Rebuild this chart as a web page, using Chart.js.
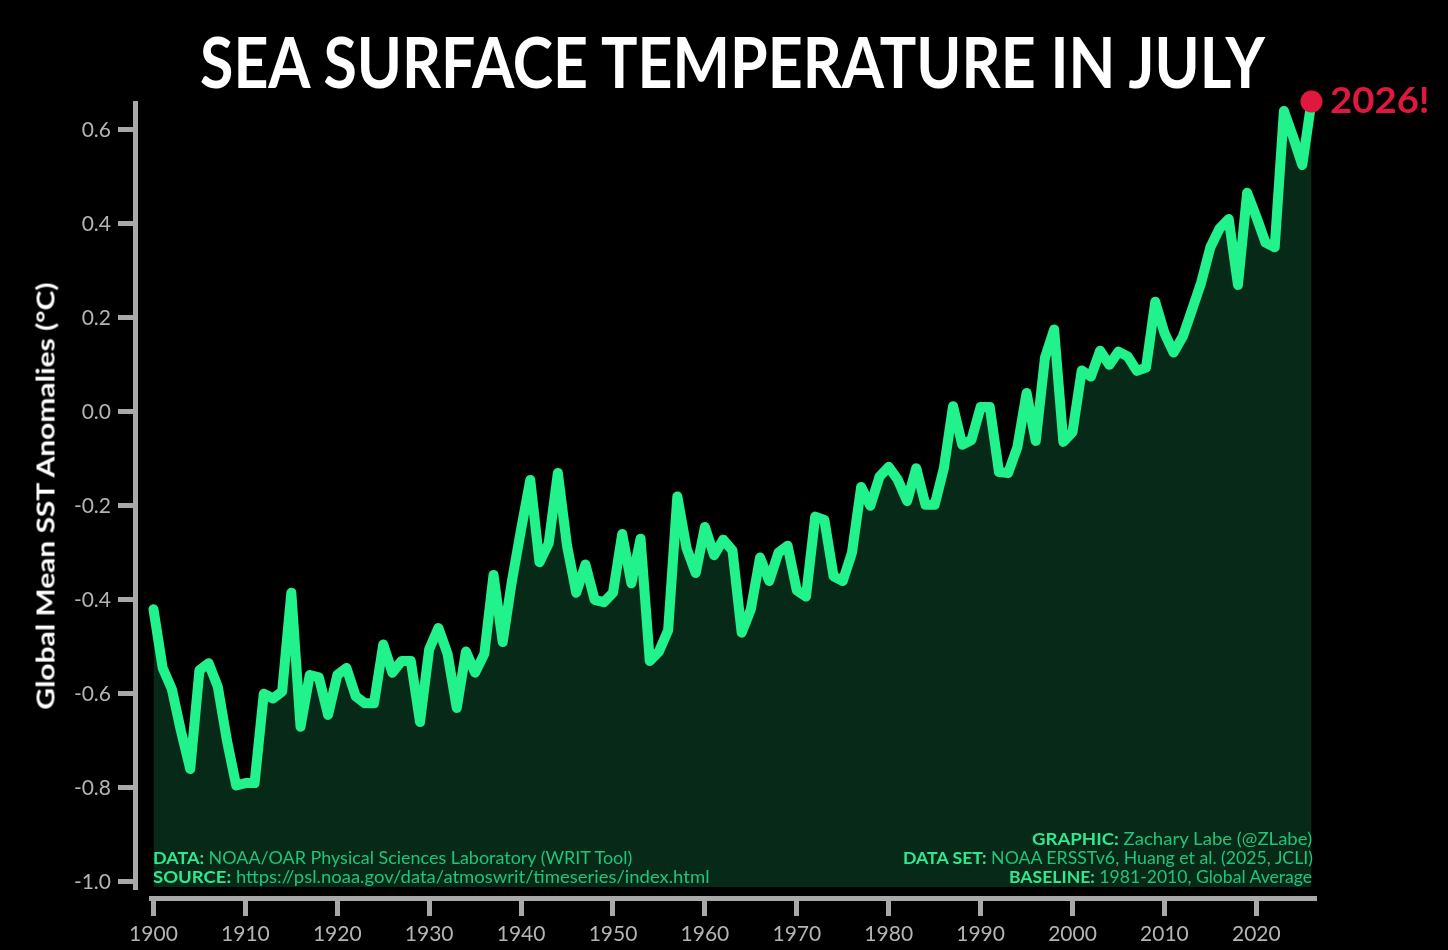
<!DOCTYPE html>
<html>
<head>
<meta charset="utf-8">
<script src="https://cdn.jsdelivr.net/npm/chart.js@4.4.1/dist/chart.umd.min.js"></script>
<style>
   html, body { margin: 0; padding: 0; background: #000; }
   #wrap { position: relative; width: 1448px; height: 950px; overflow: hidden; background: #000; }
   #chart { position: absolute; left: 0; top: 0; }
   .txt { position: absolute; white-space: nowrap; font-family: Lato, "DejaVu Sans", sans-serif; }
   #title { left: 200px; top: 26px; font-size: 70px; line-height: 70px; font-weight: 700; color: #fff; transform-origin: 0 0; }
   #ytitle { left: 45px; top: 496px; font-size: 25px; line-height: 25px; font-weight: 700; color: #fff; }
   #hl { left: 1330px; top: 81px; font-size: 36px; line-height: 36px; font-weight: 700; color: #e0173f; transform-origin: 0 0; }
   .credit { font-size: 17px; line-height: 17px; color: #22c47a; }
   .credit b { color: #2fe890; font-weight: 700; }
   .left { transform-origin: 0 0; }
   .right { transform-origin: 100% 0; }
</style>
</head>
<body>
<div id="wrap">
   <canvas id="chart" width="1448" height="950"></canvas>
   <div id="title" class="txt">SEA SURFACE TEMPERATURE IN JULY</div>
   <div id="ytitle" class="txt">Global Mean SST Anomalies (°C)</div>
   <div id="hl" class="txt">2026!</div>
   <div id="c1" class="txt credit left" style="left:153px;top:849px"><b>DATA:</b> NOAA/OAR Physical Sciences Laboratory (WRIT Tool)</div>
   <div id="c2" class="txt credit left" style="left:153px;top:868px"><b>SOURCE:</b> https://psl.noaa.gov/data/atmoswrit/timeseries/index.html</div>
   <div id="c3" class="txt credit right" style="right:136px;top:830px"><b>GRAPHIC:</b> Zachary Labe (@ZLabe)</div>
   <div id="c4" class="txt credit right" style="right:135px;top:849px"><b>DATA SET:</b> NOAA ERSSTv6, Huang et al. (2025, JCLI)</div>
   <div id="c5" class="txt credit right" style="right:136px;top:868px"><b>BASELINE:</b> 1981-2010, Global Average</div>
</div>
<script>
const years = [
   1900, 1901, 1902, 1903, 1904, 1905, 1906, 1907, 1908, 1909,
   1910, 1911, 1912, 1913, 1914, 1915, 1916, 1917, 1918, 1919,
   1920, 1921, 1922, 1923, 1924, 1925, 1926, 1927, 1928, 1929,
   1930, 1931, 1932, 1933, 1934, 1935, 1936, 1937, 1938, 1939,
   1940, 1941, 1942, 1943, 1944, 1945, 1946, 1947, 1948, 1949,
   1950, 1951, 1952, 1953, 1954, 1955, 1956, 1957, 1958, 1959,
   1960, 1961, 1962, 1963, 1964, 1965, 1966, 1967, 1968, 1969,
   1970, 1971, 1972, 1973, 1974, 1975, 1976, 1977, 1978, 1979,
   1980, 1981, 1982, 1983, 1984, 1985, 1986, 1987, 1988, 1989,
   1990, 1991, 1992, 1993, 1994, 1995, 1996, 1997, 1998, 1999,
   2000, 2001, 2002, 2003, 2004, 2005, 2006, 2007, 2008, 2009,
   2010, 2011, 2012, 2013, 2014, 2015, 2016, 2017, 2018, 2019,
   2020, 2021, 2022, 2023, 2024, 2025, 2026,
]

// July global mean SST anomaly (°C), 1981-2010 baseline
const sstAnomaly = [
   -0.42, -0.545, -0.59, -0.68, -0.76, -0.55, -0.535, -0.585, -0.70, -0.795,
   -0.79, -0.79, -0.60, -0.61, -0.595, -0.385, -0.67, -0.56, -0.565, -0.645,
   -0.56, -0.545, -0.605, -0.62, -0.62, -0.495, -0.555, -0.53, -0.53, -0.66,
   -0.505, -0.46, -0.515, -0.63, -0.51, -0.555, -0.515, -0.347, -0.49, -0.36,
   -0.25, -0.145, -0.32, -0.28, -0.13, -0.285, -0.385, -0.325, -0.40, -0.405,
   -0.385, -0.26, -0.365, -0.27, -0.53, -0.51, -0.465, -0.18, -0.29, -0.343,
   -0.245, -0.305, -0.272, -0.295, -0.47, -0.42, -0.31, -0.36, -0.30, -0.285,
   -0.38, -0.393, -0.223, -0.23, -0.35, -0.36, -0.30, -0.16, -0.20, -0.138,
   -0.117, -0.145, -0.19, -0.12, -0.198, -0.198, -0.12, 0.012, -0.07, -0.06,
   0.01, 0.01, -0.128, -0.13, -0.075, 0.04, -0.062, 0.115, 0.175, -0.064,
   -0.043, 0.088, 0.075, 0.13, 0.10, 0.128, 0.118, 0.087, 0.094, 0.234,
   0.168, 0.126, 0.16, 0.217, 0.275, 0.35, 0.39, 0.41, 0.27, 0.466,
   0.415, 0.36, 0.35, 0.64, 0.585, 0.525, 0.66,
]

const xTickValues = [1900, 1910, 1920, 1930, 1940, 1950, 1960, 1970, 1980, 1990, 2000, 2010, 2020]
const yTickValues = [-1.0, -0.8, -0.6, -0.4, -0.2, 0.0, 0.2, 0.4, 0.6]

const lineColor = "#22f28c"
const fillColor = "#072a18"
const highlightColor = "#e0173f"
const axisColor = "#a9a9a9"
const tickLabelColor = "#b4b4b4"
const tickFont = { family: "Lato", size: 21 }

const yMin = -1.011
const yMax = 0.657

const last = years.length - 1
const seriesPoints = years.map((yr, i) => ({ x: yr, y: sstAnomaly[i] }))

const spineGrid = {
   drawOnChartArea: false,
   drawTicks: true,
   tickLength: 15,
   tickWidth: 5,
   tickColor: axisColor,
   lineWidth: 5,
   color: axisColor,
}
const spineBorder = { display: true, color: axisColor, width: 5 }
const setTicks = values => scale => {
   scale.ticks = values.map(v => ({ value: v }))
}
const fmtY = v => (Math.abs(v) < 1e-9 ? "0.0" : v.toFixed(1))

const ctx = document.getElementById("chart").getContext("2d")
const sstChart = new Chart(ctx, {
   type: "line",
   data: {
      datasets: [
         {
            data: [{ x: years[last], y: sstAnomaly[last] }],
            showLine: false,
            pointRadius: 11,
            pointHoverRadius: 11,
            pointBorderWidth: 0,
            pointBackgroundColor: highlightColor,
            clip: false,
            order: 1,
         },
         {
            data: seriesPoints,
            borderColor: lineColor,
            borderWidth: 10,
            borderJoinStyle: "round",
            borderCapStyle: "round",
            backgroundColor: fillColor,
            fill: "start",
            pointRadius: 0,
            tension: 0,
            clip: false,
            order: 2,
         },
      ],
   },
   options: {
      responsive: false,
      animation: false,
      events: [],
      layout: { padding: { left: 51, right: 133.5, top: 103, bottom: 63 } },
      plugins: {
         legend: { display: false },
         tooltip: { enabled: false },
         title: { display: false },
      },
      scales: {
         x: {
            type: "linear",
            min: 1899.73,
            max: 2026.33,
            position: { y: -1.0365 },
            grid: spineGrid,
            border: spineBorder,
            afterBuildTicks: setTicks(xTickValues),
            ticks: {
               color: tickLabelColor,
               font: tickFont,
               padding: 8,
               maxRotation: 0,
               autoSkip: false,
               callback: v => String(v),
            },
         },
         // spine and tick marks, set off to the left of the plot area
         y: {
            type: "linear",
            min: yMin,
            max: yMax,
            position: { x: 1898.04 },
            grid: spineGrid,
            border: spineBorder,
            afterBuildTicks: setTicks(yTickValues),
            ticks: { display: false },
         },
         // tick labels only
         yLabels: {
            type: "linear",
            axis: "y",
            position: "left",
            min: yMin,
            max: yMax,
            grid: { display: false, drawTicks: false },
            border: { display: false },
            afterBuildTicks: setTicks(yTickValues),
            afterFit: scale => {
               scale.width = 100
            },
            ticks: {
               color: tickLabelColor,
               font: tickFont,
               padding: 40,
               autoSkip: false,
               callback: fmtY,
            },
         },
      },
   },
})

// stretch the overlay texts to the widths they have in the original graphic
const fitWidth = (id, width, extra) => {
   const el = document.getElementById(id)
   const k = width / el.offsetWidth
   el.style.transform = (extra || "") + ` scaleX(${k})`
}
fitWidth("title", 1065)
fitWidth("hl", 100)
fitWidth("c1", 479)
fitWidth("c2", 556)
fitWidth("c3", 280)
fitWidth("c4", 410)
fitWidth("c5", 303)
fitWidth("ytitle", 427, "translate(-50%, -50%) rotate(-90deg)")
</script>
</body>
</html>
